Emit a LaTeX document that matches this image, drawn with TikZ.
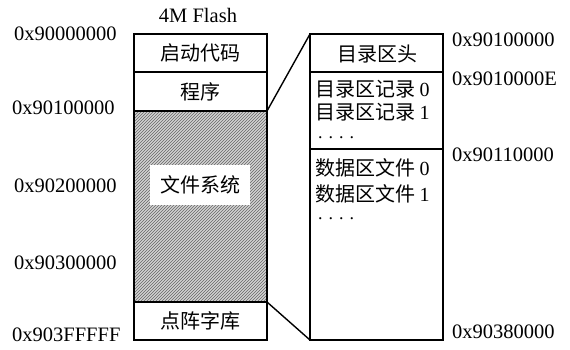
\documentclass[tikz,border=0pt]{standalone}
\usepackage{fontspec}
\setmainfont{Liberation Serif}
\newfontfamily\cjk{Noto Sans CJK SC}
\usetikzlibrary{patterns}
\begin{document}
\begin{tikzpicture}[x=1pt,y=-1pt,
  lbl/.style={font=\fontsize{20.5}{22}\selectfont, inner sep=0pt},
  cn/.style={font=\cjk\fontsize{20}{22}\selectfont, inner sep=0pt},
  dots/.style={font=\fontsize{18}{20}\selectfont, inner sep=0pt},
  box/.style={draw=black, line width=1.4pt},
  link/.style={draw=black, line width=1.4pt}]
\useasboundingbox (0,0) rectangle (570,349);
% left column
\fill[gray!35] (134,111) rectangle (267,302);
\fill[pattern=north east lines, pattern color=gray!80!black] (134,111) rectangle (267,302);
\node[fill=white, minimum width=100pt, minimum height=40pt, inner sep=0pt] (fsbox) at (200,185) {};
\node[cn] (fs) at (fsbox.center) {文件系统};
\draw[box] (134,34) rectangle (267,340);
\draw[box] (134,72) -- (267,72);
\draw[box] (134,111) -- (267,111);
\draw[box] (134,302) -- (267,302);
\coordinate (lt) at (267,111);
\coordinate (lb) at (267,302);
\node[cn] (boot) at (200.5,53) {启动代码};
\node[cn] (prog) at (200.5,91.5) {程序};
\node[cn] (font) at (200.5,321) {点阵字库};
\node[lbl] (title) at (198,15) {4M Flash};
% left labels
\node[lbl, anchor=west] (a0) at (14,34) {0x90000000};
\node[lbl, anchor=west] (a1) at (12,108) {0x90100000};
\node[lbl, anchor=west] (a2) at (14,186) {0x90200000};
\node[lbl, anchor=west] (a3) at (14,263) {0x90300000};
\node[lbl, anchor=west] (a4) at (12,335) {0x903FFFFF};
% right column
\draw[box] (310,34) rectangle (443,340);
\draw[box] (310,72) -- (443,72);
\draw[box] (310,149) -- (443,149);
\coordinate (rt) at (310,34);
\coordinate (rb) at (310,340);
\draw[link] (lt) -- (rt);
\draw[link] (lb) -- (rb);
\node[cn] (dirh) at (377,54) {目录区头};
\node[cn, anchor=west] (r0) at (315,89) {目录区记录 {\rmfamily 0}};
\node[cn, anchor=west] (r1) at (315,112) {目录区记录 {\rmfamily 1}};
\node[dots, anchor=base west] (rd) at (318,138) {.\hspace{6pt}.\hspace{6pt}.\hspace{6pt}.};
\node[cn, anchor=west] (d0) at (315,168) {数据区文件 {\rmfamily 0}};
\node[cn, anchor=west] (d1) at (315,194) {数据区文件 {\rmfamily 1}};
\node[dots, anchor=base west] (dd) at (318,219) {.\hspace{6pt}.\hspace{6pt}.\hspace{6pt}.};
% right labels
\node[lbl, anchor=west] (b0) at (452,40) {0x90100000};
\node[lbl, anchor=west] (b1) at (452,79) {0x9010000E};
\node[lbl, anchor=west] (b2) at (452,155) {0x90110000};
\node[lbl, anchor=west] (b3) at (452,332) {0x90380000};
\end{tikzpicture}
\end{document}
